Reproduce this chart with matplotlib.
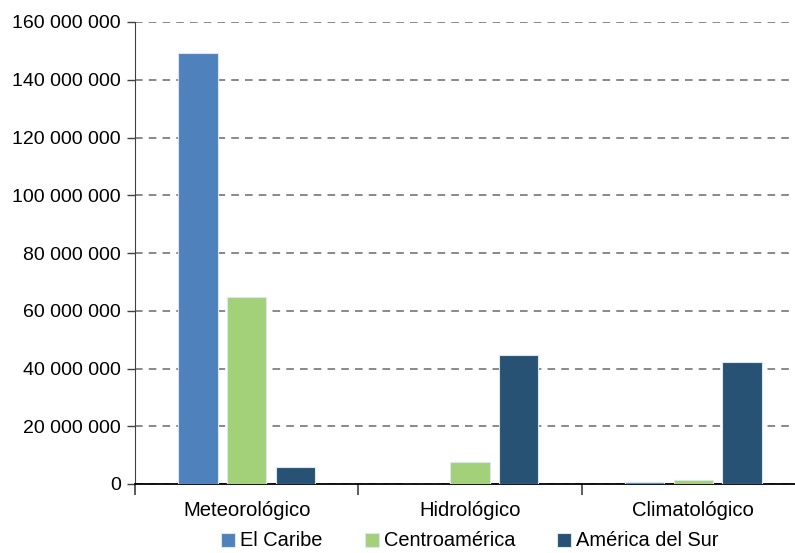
import numpy as np
import matplotlib.pyplot as plt
from matplotlib.ticker import FuncFormatter

plt.rcParams['font.family'] = ['Liberation Sans', 'DejaVu Sans']

categorias = ['Meteorológico', 'Hidrológico', 'Climatológico']
el_caribe = [149300000, 0, 700000]
centroamerica = [64800000, 7600000, 1500000]
america_sur = [5900000, 44700000, 42300000]

series = [
    ('El Caribe', el_caribe, '#4f81bd'),
    ('Centroamérica', centroamerica, '#a3d179'),
    ('América del Sur', america_sur, '#275274'),
]

fig = plt.figure(figsize=(7.95, 5.53), dpi=100)
ax = fig.add_axes([135 / 795, (553 - 484) / 553, 670 / 795, 462 / 553])

x = np.arange(len(categorias))
ancho = 0.175
paso = 0.218
for i, (nombre, valores, color) in enumerate(series):
    ax.bar(x + (i - 1) * paso, valores, width=ancho, color=color,
           edgecolor='#dce6f2', linewidth=0.8, label=nombre, zorder=3)

ax.set_xlim(-0.5, 2.5)
ax.set_ylim(0, 160000000)
ax.set_yticks(np.arange(0, 160000001, 20000000))
ax.yaxis.set_major_formatter(FuncFormatter(lambda v, p: f'{int(v):,}'.replace(',', ' ')))
ax.yaxis.grid(True, linestyle=(0, (5, 4)), color='#6a6a6a', linewidth=1.1, zorder=0)

ax.set_xticks(x)
ax.set_xticklabels(categorias)
ax.set_xticks([-0.5, 0.5, 1.5, 2.5], minor=True)
ax.tick_params(axis='x', which='major', length=0, pad=12, labelsize=14.6)
ax.tick_params(axis='x', which='minor', length=8, width=1.2, color='#404040', direction='out')
ax.tick_params(axis='y', length=6, width=1, color='#404040', labelsize=14, pad=4)

for lado in ['top', 'right']:
    ax.spines[lado].set_visible(False)
ax.spines['left'].set_color('#404040')
ax.spines['bottom'].set_color('#000000')
ax.spines['bottom'].set_linewidth(1.3)

fig.legend(loc='center', bbox_to_anchor=(470 / 795, 1 - 541 / 553), ncol=3,
           frameon=False, fontsize=14.4, handlelength=0.7, handleheight=0.7,
           handletextpad=0.25, columnspacing=2.1, borderpad=0)

fig.savefig('out.png', dpi=100)
